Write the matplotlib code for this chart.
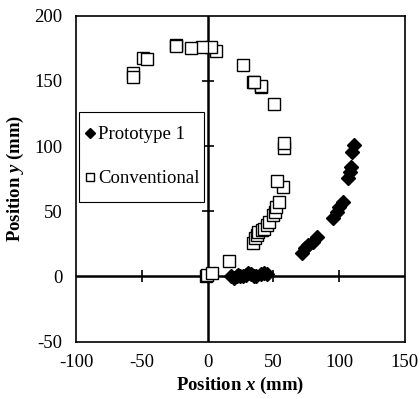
import numpy as np
import matplotlib
matplotlib.use('Agg')
import matplotlib.pyplot as plt
from matplotlib.patches import Rectangle

plt.rcParams['font.family'] = 'Liberation Serif'
plt.rcParams['axes.unicode_minus'] = False
plt.rcParams['mathtext.fontset'] = 'custom'
plt.rcParams['mathtext.rm'] = 'Liberation Serif'
plt.rcParams['mathtext.it'] = 'Liberation Serif:italic'
plt.rcParams['mathtext.bf'] = 'Liberation Serif:bold'
plt.rcParams['mathtext.bfit'] = 'Liberation Serif:italic:bold'

# Prototype 1 positions (mm)
proto_x = [18, 20, 22, 23, 25, 27, 29, 31, 33, 35, 37, 41, 43, 45,
           71.5, 74, 76.5, 80.3, 82.9, 95.5, 98.1, 100.1, 103.1,
           106.9, 108.2, 108.7, 109.5, 111.2]
proto_y = [0, -1, 0, 1.5, 0, 0.5, 1, 2.5, 2, 0.5, 0, 2, 3, 2,
           18.3, 21.6, 24.2, 26.7, 30.5, 44.6, 49.7, 53, 57.4,
           75.3, 80.4, 84.2, 95.7, 100.8]

# Conventional positions (mm)
conv_x = [-1.2, -0.2, 3.1, 16.5, 34.3, 36, 37.3, 38.5, 41.1, 42.9, 45.4,
          46.7, 49.9, 51.2, 52, 54.3, 57.5, 53, 57.8, 57.8, 50.5, 40.8,
          40.8, 34.7, 35.5, 26.9, 6.4, 2.8, -4.3, -12.6, -24.2, -24, -48.9,
          -46, -56.5, -57]
conv_y = [0, 1.2, 2.5, 12.1, 26, 29.3, 31.8, 33.9, 35.7, 36.4, 39.5,
          42, 47.2, 49.7, 53, 56.9, 68.9, 73.5, 98.5, 102.6, 132.5, 145,
          146.3, 149, 149, 162, 173, 176.2, 176.2, 175, 177.5, 176.5, 167.3,
          167, 156.3, 153]

x_ticks = [-100, -50, 0, 50, 100, 150]
y_ticks = [-50, 0, 50, 100, 150, 200]

fig = plt.figure(figsize=(4.2, 3.99), dpi=100)
ax = fig.add_axes([0.181, 0.1436, 0.783, 0.8174])

ax.axhline(0, color='black', lw=1.8, zorder=1)
ax.axvline(0, color='black', lw=1.8, zorder=1)
# cross tick marks on the zero lines
xt = [t for t in x_ticks if t not in (0, -100, 150)]
yt = [t for t in y_ticks if t not in (0, -50, 200)]
ax.plot(xt, np.zeros(len(xt)), ls='none', marker='|', ms=9, mew=1.2,
        color='black', zorder=1)
ax.plot(np.zeros(len(yt)), yt, ls='none', marker='_', ms=9, mew=1.2,
        color='black', zorder=1)

ax.plot(proto_x, proto_y, ls='none', marker='D', ms=7.5, color='black',
        label='Prototype 1', zorder=3)
ax.plot(conv_x, conv_y, ls='none', marker='s', ms=8.5, mfc='white',
        mec='black', mew=1.0, label='Conventional', zorder=3)

ax.set_xlim(-100, 150)
ax.set_ylim(-50, 200)
ax.set_xticks(x_ticks)
ax.set_yticks(y_ticks)
ax.tick_params(length=0, labelsize=13.5)
ax.tick_params(axis='y', pad=10)
ax.tick_params(axis='x', pad=9)
for s in ax.spines.values():
    s.set_linewidth(1.2)

ax.set_xlabel(r'Position $\mathbfit{x}$ (mm)', fontsize=13.5, fontweight='bold', labelpad=3)
ax.set_ylabel(r'Position $\mathbfit{y}$ (mm)', fontsize=13.5, fontweight='bold', labelpad=6)

leg = ax.legend(loc='center left', bbox_to_anchor=(0.017, 0.567), borderaxespad=0,
                fontsize=13.5, labelspacing=1.45, handlelength=0.5,
                handletextpad=0.2, borderpad=0.2, markerscale=0.7,
                frameon=False)
ax.add_patch(Rectangle((0.009, 0.4285), 0.38, 0.2745, transform=ax.transAxes,
                       fill=True, facecolor='white', edgecolor='black',
                       lw=0.8, zorder=4))
leg.set_zorder(5)

plt.savefig('out.png', dpi=100)
